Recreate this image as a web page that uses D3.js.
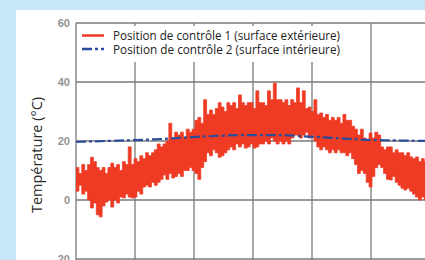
<!DOCTYPE html>
<html>
<head>
<meta charset="utf-8">
<script src="https://cdn.jsdelivr.net/npm/d3@7"></script>
<style>
  html, body { margin: 0; padding: 0; background: #c6e8f8; }
  svg { display: block; }
</style>
</head>
<body>
<svg id="chart"></svg>
<script>
// outside surface: high / low of the daily swing, every 3 days
const outerDays = d3.range(0, 364, 3);
const outerHigh = [
  11, 9, 12, 10,   12, 14.5, 13, 11,   10, 11, 9, 11,   12.5, 11, 12, 10,
  13, 12, 18, 12,  14, 13, 15, 14,     16, 15, 16, 17,  19, 18, 19, 20,
  26, 21, 23, 22,  23, 21, 24, 23,     24, 27, 28, 26,  34, 29, 30.5, 29,
  31, 33, 31.5, 30, 33, 32, 33, 31,    35.6, 33, 32, 33, 33, 31, 37, 33,
  33, 32, 37, 34,  39.6, 34, 34, 33,   34, 32, 34, 33,  38, 33, 37, 31,
  31.5, 30, 34, 29, 29.5, 28, 29, 27,  28, 27, 28, 26,  29, 27, 27, 25,
  24, 22, 24, 21,  20, 22.7, 21, 23,   22, 18, 17, 18,  18, 16, 17, 16,
  16, 15, 16, 14.6, 14, 14.6, 13, 14,  13, 14
];
const outerLow = [
  3, 5, 2, 3,      0, -2.7, -1, -5,    -5.7, -2, -0.7, 0, -2.4, 0, -1, 1,
  0.7, 2, 1, 0.7,  1, 3, 2, 4.4,       5, 4.4, 6, 5,    6, 7, 8.5, 7,
  9, 7.5, 8, 9,    8, 10, 10, 11,      10, 9, 7, 11,    13, 16, 15, 17,
  16, 14.5, 15, 16, 17, 18, 17, 19,    18, 19, 17.6, 18, 19, 17.6, 18, 19,
  19, 20, 19, 21,  20, 19, 20, 19,     20, 19, 21, 22,  22, 21, 22, 23,
  21, 22, 20, 18,  17, 18, 17, 16,     17, 16, 17, 16,  16, 15, 16, 14,
  12, 9, 10, 9,    6, 4.4, 8, 11,      12, 11, 9, 7,    6.8, 8, 6, 5,
  4, 3.4, 4, 3,    2, 1, 0, 1,         0, 2
];
const innerDays = [0, 30, 60, 90, 120, 150, 180, 210, 240, 270, 300, 330, 366];
const innerTemp = [19.7, 20, 20.3, 20.7, 21.3, 21.8, 22, 22, 21.5, 21, 20.4, 20.2, 20];
const yTicks = [60, 40, 20, 0, -20];
const xGrid = [0, 61, 122, 183, 244, 305, 366];
const legendLabels = [
  "Position de contrôle 1 (surface extérieure)",
  "Position de contrôle 2 (surface intérieure)"
];

const width = 425, height = 260;
const margin = { top: 23, left: 76 };
const red = "#ef3b24", blue = "#2b4c9c";
const dash = "10,3,3,3";

const svg = d3.select("#chart")
    .attr("width", width)
    .attr("height", height);

// white panel
svg.append("rect")
    .attr("x", 16).attr("y", 10)
    .attr("width", width - 16).attr("height", height - 10)
    .attr("fill", "#fff");

const x = d3.scaleLinear().domain([0, 366]).range([margin.left, 430]);
const y = d3.scaleLinear().domain([-20, 60]).range([259, margin.top]);

svg.append("clipPath").attr("id", "plot")
    .append("rect")
    .attr("x", margin.left).attr("y", margin.top)
    .attr("width", width - margin.left).attr("height", y(-20) - margin.top);

// grid
const grid = svg.append("g").attr("stroke", "#7a7a7a").attr("stroke-width", 1.3);
grid.selectAll("line.h")
    .data(yTicks)
    .join("line")
    .attr("class", "h")
    .attr("x1", margin.left).attr("x2", width)
    .attr("y1", d => y(d)).attr("y2", d => y(d));
grid.selectAll("line.v")
    .data(xGrid)
    .join("line")
    .attr("class", "v")
    .attr("x1", d => x(d)).attr("x2", d => x(d))
    .attr("y1", margin.top).attr("y2", height);

// y tick labels
svg.append("g")
    .selectAll("text")
    .data(yTicks)
    .join("text")
    .attr("x", 70)
    .attr("y", d => y(d) + 4)
    .attr("text-anchor", "end")
    .attr("fill", "#929292")
    .style("font-family", "'Liberation Sans', Arial, sans-serif")
    .style("font-weight", "bold")
    .style("font-size", "11px")
    .text(d => d);

// axis title
svg.append("text")
    .attr("transform", "translate(42,155) rotate(-90)")
    .attr("text-anchor", "middle")
    .attr("fill", "#2a2a2a")
    .attr("textLength", 116)
    .attr("lengthAdjust", "spacingAndGlyphs")
    .style("font-family", "'Open Sans', sans-serif")
    .style("font-size", "14px")
    .text("Température (°C)");

const plot = svg.append("g").attr("clip-path", "url(#plot)");

const outerArea = d3.area()
    .x((d, i) => x(outerDays[i]))
    .y0((d, i) => y(outerLow[i]))
    .y1(d => y(d))
    .curve(d3.curveStepAfter);
plot.append("path")
    .datum(outerHigh)
    .attr("fill", red)
    .attr("stroke", red)
    .attr("stroke-width", 0.8)
    .attr("d", outerArea);

const innerLine = d3.line()
    .x((d, i) => x(innerDays[i]))
    .y(d => y(d))
    .curve(d3.curveMonotoneX);
plot.append("path")
    .datum(innerTemp)
    .attr("fill", "none")
    .attr("stroke", blue)
    .attr("stroke-width", 2.2)
    .attr("stroke-dasharray", dash)
    .attr("d", innerLine);

// legend
const legend = svg.append("g");
legend.append("rect")
    .attr("x", 77).attr("y", 26)
    .attr("width", 270).attr("height", 36)
    .attr("fill", "#fff");
const styles = [
  { color: red, dash: null },
  { color: blue, dash: dash }
];
legendLabels.forEach((label, i) => {
    const ly = 35.5 + i * 13.5;
    legend.append("line")
        .attr("x1", 82).attr("x2", 104)
        .attr("y1", ly).attr("y2", ly)
        .attr("stroke", styles[i].color)
        .attr("stroke-width", 2.5)
        .attr("stroke-dasharray", styles[i].dash);
    legend.append("text")
        .attr("x", 113).attr("y", ly + 4.5)
        .attr("fill", "#222")
        .attr("textLength", 227)
        .attr("lengthAdjust", "spacingAndGlyphs")
        .style("font-family", "'Open Sans', sans-serif")
        .style("font-size", "12.3px")
        .text(label);
});
</script>
</body>
</html>
